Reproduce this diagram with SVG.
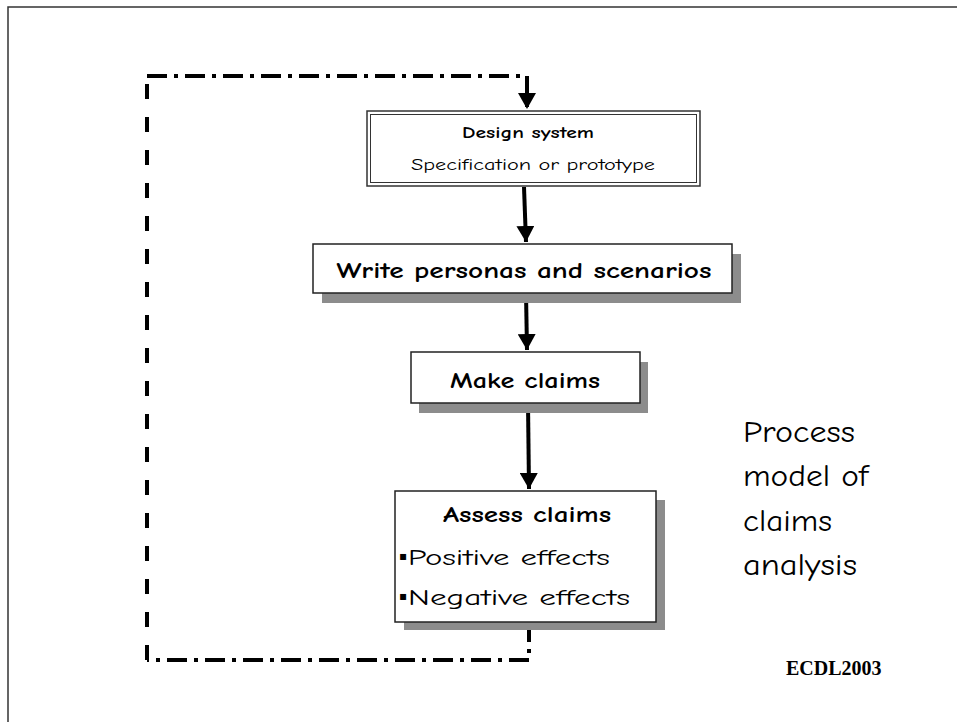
<svg xmlns="http://www.w3.org/2000/svg" width="957" height="722" viewBox="0 0 957 722">
<style>
.box{fill:#fff;stroke:#222;stroke-width:1.5}
.shadow{fill:#8c8c8c}
.t{font-family:"Comic Sans MS","Comic Neue","DejaVu Sans",sans-serif;fill:#000}
.b{font-weight:bold}
.conn{stroke:#000;stroke-width:4;fill:none}
.dd{stroke:#000;stroke-width:4;fill:none;stroke-dasharray:20 7 4 7}
</style>
<defs>
<marker id="ah" markerUnits="userSpaceOnUse" markerWidth="18" markerHeight="18" refX="16" refY="9" orient="auto">
<path d="M0,0 L16,9 L0,18 z" fill="#000"/>
</marker>
</defs>
<rect width="957" height="722" fill="#fff"/>
<path d="M8,722 V7 H957" fill="none" stroke="#333" stroke-width="1.5"/>

<g id="connectors">
<path class="dd" d="M529,622 V660 H147"/>
<path class="conn" d="M147,660 V76" stroke-dasharray="15 18"/>
<path class="dd" d="M147,76 H527 V109" marker-end="url(#ah)"/>
<path class="conn" d="M524,187 L526,242" marker-end="url(#ah)"/>
<path class="conn" d="M526,293 L527,350" marker-end="url(#ah)"/>
<path class="conn" d="M528,403 L529,489" marker-end="url(#ah)"/>
</g>

<g id="design">
<rect x="367" y="111" width="333" height="75" fill="#fff" stroke="#333" stroke-width="1.5"/>
<rect x="370.5" y="114.5" width="326" height="68" fill="none" stroke="#333" stroke-width="1"/>
<text class="t b" x="528" y="138" font-size="16" text-anchor="middle" textLength="132" lengthAdjust="spacingAndGlyphs">Design system</text>
<text class="t" x="533" y="170" font-size="16" text-anchor="middle" textLength="244" lengthAdjust="spacingAndGlyphs">Specification or prototype</text>
</g>

<g id="write">
<rect class="shadow" x="322" y="254" width="419" height="49"/>
<rect class="box" x="313" y="244" width="419" height="49"/>
<text class="t b" x="524" y="278" font-size="23" text-anchor="middle" textLength="375" lengthAdjust="spacingAndGlyphs">Write personas and scenarios</text>
</g>

<g id="make">
<rect class="shadow" x="419" y="362" width="229" height="51"/>
<rect class="box" x="411" y="352" width="229" height="51"/>
<text class="t b" x="525" y="388" font-size="23" text-anchor="middle" textLength="150" lengthAdjust="spacingAndGlyphs">Make claims</text>
</g>

<g id="assess">
<rect class="shadow" x="404" y="500" width="261" height="130"/>
<rect class="box" x="395" y="491" width="261" height="131"/>
<text class="t b" x="527" y="522" font-size="23" text-anchor="middle" textLength="168" lengthAdjust="spacingAndGlyphs">Assess claims</text>
<text class="t" x="399" y="560" font-size="12">▪</text>
<text class="t" x="408" y="565" font-size="23" textLength="202" lengthAdjust="spacingAndGlyphs">Positive effects</text>
<text class="t" x="399" y="600" font-size="12">▪</text>
<text class="t" x="408" y="605" font-size="23" textLength="222" lengthAdjust="spacingAndGlyphs">Negative effects</text>
</g>

<g id="caption">
<text class="t" font-size="31">
<tspan x="743" y="442" textLength="112" lengthAdjust="spacingAndGlyphs">Process</tspan>
<tspan x="743" y="486" textLength="125" lengthAdjust="spacingAndGlyphs">model of</tspan>
<tspan x="743" y="531" textLength="89" lengthAdjust="spacingAndGlyphs">claims</tspan>
<tspan x="743" y="575" textLength="114" lengthAdjust="spacingAndGlyphs">analysis</tspan>
</text>
</g>

<text x="786" y="675" font-family="'Liberation Serif',serif" font-weight="bold" font-size="20">ECDL2003</text>
</svg>
